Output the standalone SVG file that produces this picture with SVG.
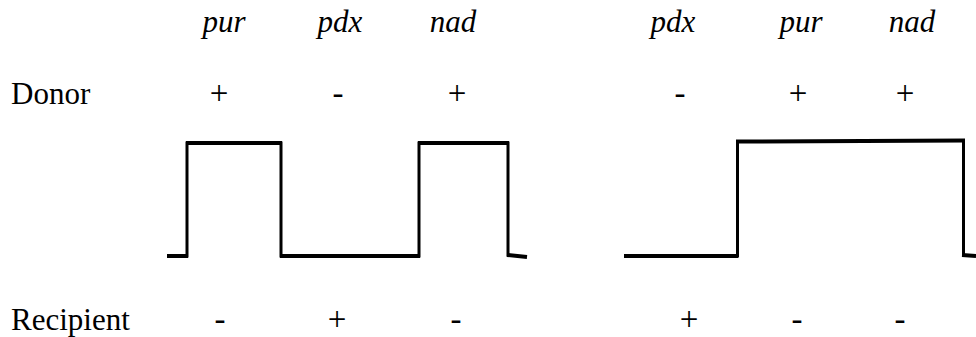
<svg xmlns="http://www.w3.org/2000/svg" width="976" height="337" viewBox="0 0 976 337">
  <style>
    .lbl { font-family: "Liberation Serif", "DejaVu Serif", "Times New Roman", serif; font-size: 31px; fill: #000; }
    .gene { font-style: italic; text-anchor: middle; }
    .sign { text-anchor: middle; font-size: 33px; }
    .h { stroke: #000; stroke-width: 4; fill: none; stroke-linecap: butt; }
    .v { stroke: #000; stroke-width: 3; fill: none; stroke-linecap: square; }
  </style>
  <rect width="976" height="337" fill="#fff"/>

  <!-- gene order headings -->
  <g id="genes-left">
    <text class="lbl gene" x="224" y="32">pur</text>
    <text class="lbl gene" x="340" y="32">pdx</text>
    <text class="lbl gene" x="453" y="32">nad</text>
  </g>
  <g id="genes-right">
    <text class="lbl gene" x="673" y="32">pdx</text>
    <text class="lbl gene" x="801" y="32">pur</text>
    <text class="lbl gene" x="912" y="32">nad</text>
  </g>

  <!-- donor row -->
  <g id="donor">
    <text class="lbl" x="11" y="104">Donor</text>
    <text class="lbl sign" x="219" y="104">+</text>
    <text class="lbl sign" x="338" y="104">-</text>
    <text class="lbl sign" x="457" y="104">+</text>
    <text class="lbl sign" x="680" y="104">-</text>
    <text class="lbl sign" x="798" y="104">+</text>
    <text class="lbl sign" x="905" y="104">+</text>
  </g>

  <!-- left trace: horizontal runs, then vertical edges -->
  <g id="trace-left">
    <line class="h" x1="167" y1="256" x2="188" y2="256"/>
    <line class="h" x1="186" y1="143" x2="282" y2="143"/>
    <line class="h" x1="280" y1="256" x2="420" y2="256"/>
    <line class="h" x1="418" y1="143" x2="509" y2="143"/>
    <line class="h" x1="507" y1="255" x2="527" y2="257"/>
    <line class="v" x1="187" y1="143" x2="187" y2="256"/>
    <line class="v" x1="281" y1="143" x2="281" y2="256"/>
    <line class="v" x1="419" y1="143" x2="419" y2="256"/>
    <line class="v" x1="508" y1="143" x2="508" y2="255"/>
  </g>

  <!-- right trace -->
  <g id="trace-right">
    <line class="h" x1="624" y1="256" x2="738" y2="256"/>
    <line class="h" x1="736" y1="141.5" x2="965" y2="140.5"/>
    <line class="h" x1="962" y1="255" x2="976" y2="256"/>
    <line class="v" x1="737.5" y1="142" x2="737.5" y2="256"/>
    <line class="v" x1="963.5" y1="141" x2="963.5" y2="255"/>
  </g>

  <!-- recipient row -->
  <g id="recipient">
    <text class="lbl" x="11" y="330">Recipient</text>
    <text class="lbl sign" x="220" y="330">-</text>
    <text class="lbl sign" x="337" y="330">+</text>
    <text class="lbl sign" x="456" y="330">-</text>
    <text class="lbl sign" x="689" y="330">+</text>
    <text class="lbl sign" x="797" y="330">-</text>
    <text class="lbl sign" x="900" y="330">-</text>
  </g>
</svg>
